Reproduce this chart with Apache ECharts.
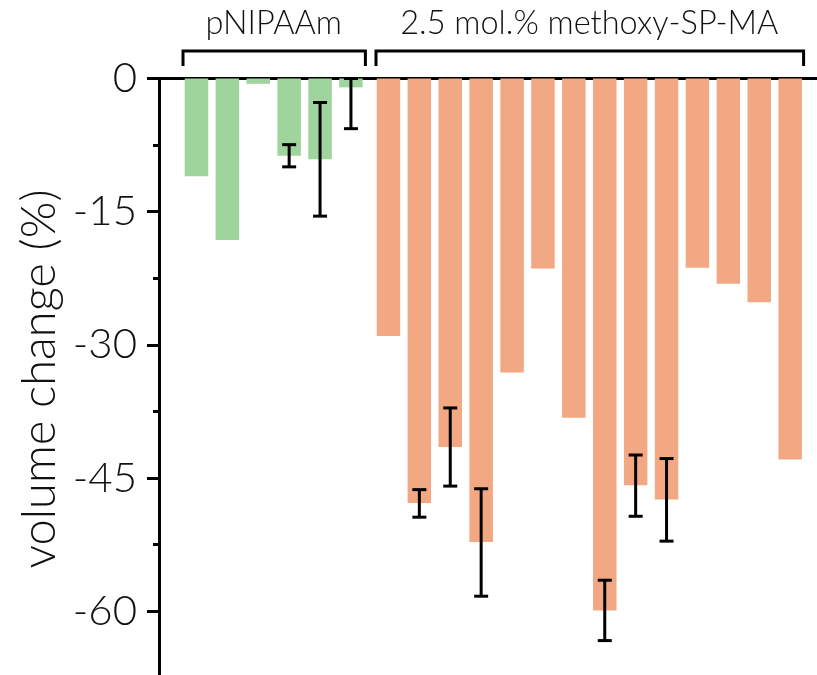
<!DOCTYPE html>
<html>
<head>
<meta charset="utf-8">
<script src="https://cdn.jsdelivr.net/npm/echarts@6/dist/echarts.min.js"></script>
<style>
  html, body { margin: 0; padding: 0; background: #fff; }
  #chart { width: 817px; height: 675px; }
</style>
</head>
<body>
<div id="chart"></div>
<script>
// 数据
var groupNames = ['pNIPAAm', '2.5 mol.% methoxy-SP-MA'];
var greenCats = ['1', '2', '3', '4', '5', '6'];
var greenVals = [-11.0, -18.2, -0.6, -8.7, -9.1, -1.0];
var greenErrLow = [null, null, null, -9.95, -15.5, -5.65];
var greenErrHigh = [null, null, null, -7.45, -2.7, 0];

var orangeCats = ['1', '2', '3', '4', '5', '6', '7', '8', '9', '10', '11', '12', '13', '14'];
var orangeVals = [-29.0, -47.8, -41.5, -52.2, -33.1, -21.4, -38.2, -59.9, -45.8, -47.4, -21.3, -23.1, -25.2, -42.9];
var orangeErrLow = [null, -49.4, -45.9, -58.3, null, null, null, -63.3, -49.3, -52.1, null, null, null, null];
var orangeErrHigh = [null, -46.3, -37.1, -46.2, null, null, null, -56.5, -42.4, -42.8, null, null, null, null];

var yTicks = [0, -15, -30, -45, -60, -75];

// 布局
var axisLeft = 159;
var plotTop = 78.5;
var plotHeight = 666;     // 75 个单位, 底部超出画布
var band = 30.9;
var greenLeft = 181;
var orangeLeft = 373;
var barW = 23.5;

var green = '#9fd49c';
var orange = '#f2a883';
var font = 'Lato';

var myChart = echarts.init(document.getElementById('chart'));

function errSeries(idx, low, high) {
	var data = [];
	for (var i = 0; i < low.length; i++) {
		if (low[i] !== null) data.push([i, low[i], high[i]]);
	}
	return {
		type: 'custom',
		xAxisIndex: idx,
		yAxisIndex: idx,
		z: 10,
		renderItem: function(params, api) {
			var x = api.value(0);
			var p1 = api.coord([x, api.value(1)]);
			var p2 = api.coord([x, api.value(2)]);
			var cap = 7;
			var st = { stroke: '#000', lineWidth: 3 };
			return {
				type: 'group',
				children: [
					{ type: 'line', shape: { x1: p1[0], y1: p1[1], x2: p2[0], y2: p2[1] }, style: st },
					{ type: 'line', shape: { x1: p1[0] - cap, y1: p1[1], x2: p1[0] + cap, y2: p1[1] }, style: st },
					{ type: 'line', shape: { x1: p2[0] - cap, y1: p2[1], x2: p2[0] + cap, y2: p2[1] }, style: st }
				]
			};
		},
		encode: { x: 0, y: [1, 2] },
		data: data
	};
}

function hiddenY(idx) {
	return {
		type: 'value', gridIndex: idx, min: -75, max: 0, interval: 15,
		show: false
	};
}

var greenRight = greenLeft + band * greenCats.length;
var orangeRight = orangeLeft + band * orangeCats.length;

function bracket(x1, x2) {
	return {
		type: 'polyline',
		shape: { points: [[x1, 66], [x1, 51], [x2, 51], [x2, 66]] },
		style: { stroke: '#000', lineWidth: 3, fill: null }
	};
}

var option = {
	backgroundColor: '#fff',
	animation: false,
	grid: [
		{ left: axisLeft, right: 0, top: plotTop, height: plotHeight, outerBoundsMode: 'none', containLabel: false },
		{ left: greenLeft, width: greenRight - greenLeft, top: plotTop, height: plotHeight, outerBoundsMode: 'none' },
		{ left: orangeLeft, width: orangeRight - orangeLeft, top: plotTop, height: plotHeight, outerBoundsMode: 'none' }
	],
	xAxis: [
		{
			type: 'category', gridIndex: 0, position: 'top', data: ['a'],
			axisLine: { lineStyle: { color: '#000', width: 3 } },
			axisTick: { show: false },
			axisLabel: { show: false }
		},
		{ type: 'category', gridIndex: 1, data: greenCats, show: false },
		{ type: 'category', gridIndex: 2, data: orangeCats, show: false }
	],
	yAxis: [
		{
			type: 'value', gridIndex: 0, min: -75, max: 0, interval: 15,
			axisLine: { show: true, lineStyle: { color: '#000', width: 3 } },
			axisTick: { show: true, length: 12, lineStyle: { color: '#000', width: 3 } },
			minorTick: { show: true, splitNumber: 2, length: 6, lineStyle: { color: '#000', width: 3 } },
			splitLine: { show: false },
			axisLabel: {
				margin: 22, color: '#111', fontFamily: font, fontWeight: 300, fontSize: 42,
				formatter: function(v) { return yTicks.indexOf(v) >= 0 ? String(v) : ''; }
			}
		},
		hiddenY(1),
		hiddenY(2)
	],
	series: [
		{
			type: 'bar', xAxisIndex: 1, yAxisIndex: 1, barWidth: barW,
			itemStyle: { color: green }, data: greenVals
		},
		{
			type: 'bar', xAxisIndex: 2, yAxisIndex: 2, barWidth: barW,
			itemStyle: { color: orange }, data: orangeVals
		},
		errSeries(1, greenErrLow, greenErrHigh),
		errSeries(2, orangeErrLow, orangeErrHigh)
	],
	graphic: [
		bracket(greenLeft + 2, greenRight - 1),
		bracket(orangeLeft + 3, orangeRight - 2),
		{
			type: 'text', x: (greenLeft + greenRight) / 2, y: 24,
			style: { text: groupNames[0], fontFamily: font, fontWeight: 300, fontSize: 32.5, fill: '#111', align: 'center', verticalAlign: 'middle' }
		},
		{
			type: 'text', x: (orangeLeft + orangeRight) / 2, y: 24,
			style: { text: groupNames[1], fontFamily: font, fontWeight: 300, fontSize: 32.5, fill: '#111', align: 'center', verticalAlign: 'middle' }
		},
		{
			type: 'text', x: 40, y: 379, rotation: Math.PI / 2,
			style: { text: 'volume change (%)', fontFamily: font, fontWeight: 300, fontSize: 47, fill: '#111', align: 'center', verticalAlign: 'middle' }
		}
	]
};

myChart.setOption(option);
</script>
</body>
</html>
